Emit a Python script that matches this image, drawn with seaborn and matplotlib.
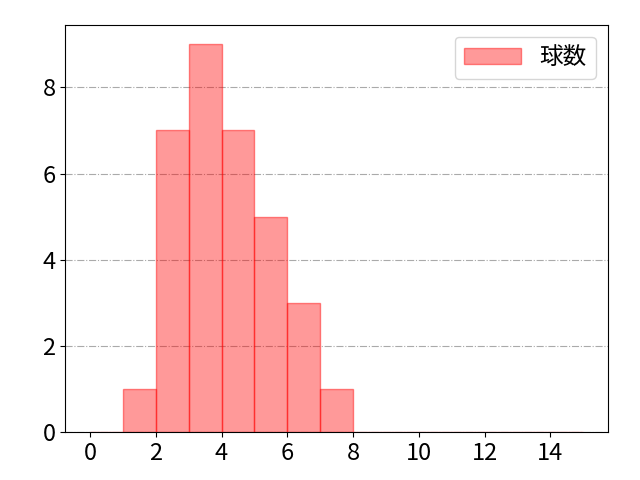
import numpy as np
import pandas as pd
import matplotlib
matplotlib.use('Agg')
import matplotlib.pyplot as plt
import seaborn as sns

plt.rcParams['font.family'] = ['Noto Sans CJK JP', 'DejaVu Sans']

# pitches per batter (value) and how many times it happened
pitch_values = [1, 2, 3, 4, 5, 6, 7]
pitch_counts = [1, 7, 9, 7, 5, 3, 1]

pitches = np.repeat(np.array(pitch_values) + 0.5, pitch_counts)
df = pd.DataFrame({'pitches': pitches})

fig, ax = plt.subplots(figsize=(6.4, 4.8), dpi=100)
sns.histplot(data=df, x='pitches', binwidth=1, binrange=(0, 15),
             color='red', alpha=0.4, edgecolor=(1, 0, 0, 0.45),
             linewidth=1, label='球数', ax=ax)
ax.grid(axis='y', linestyle='-.', color='#aaaaaa', linewidth=0.8)
ax.set_axisbelow(True)
ax.set_xlabel('')
ax.set_ylabel('')
ax.set_xticks(np.arange(0, 16, 2))
ax.tick_params(labelsize=17)
ax.legend(fontsize=17, loc='upper right', handlelength=2.4)
fig.subplots_adjust(left=0.102, right=0.95, top=0.948, bottom=0.1)
plt.savefig('out.png')
